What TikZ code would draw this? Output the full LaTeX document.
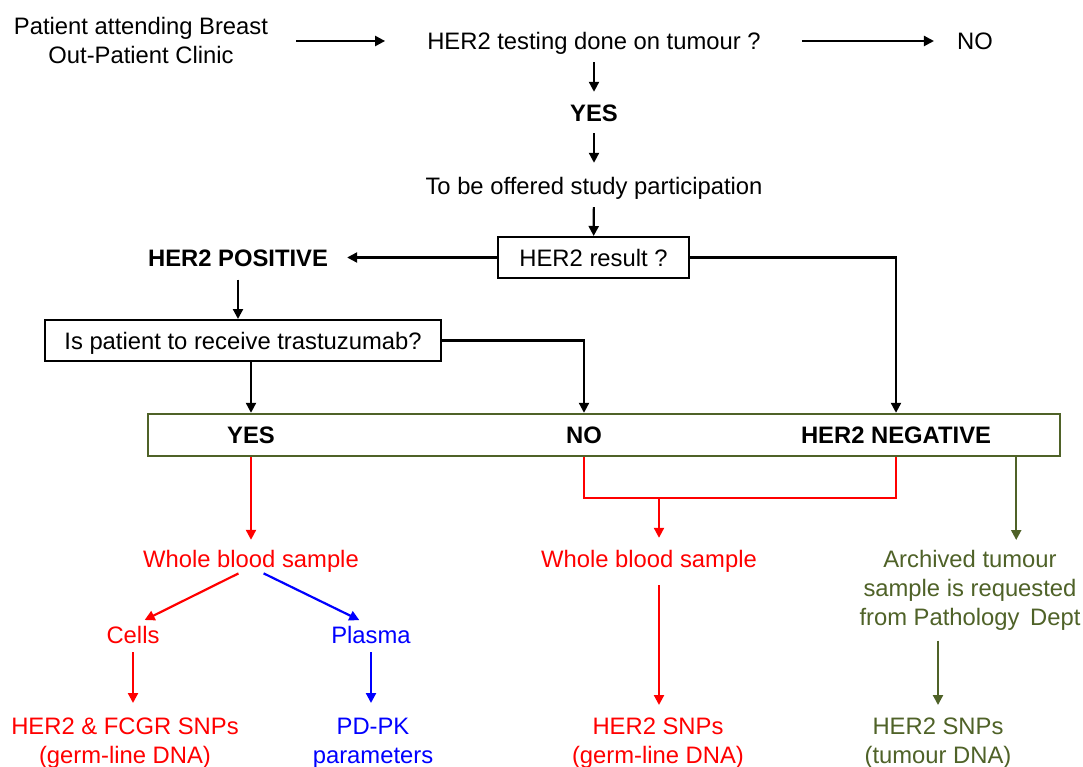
\documentclass[tikz,border=0pt]{standalone}
\usepackage{fontspec}
\setmainfont{Liberation Sans}
\usetikzlibrary{arrows.meta}
\definecolor{oliv}{RGB}{79,98,40}
\definecolor{pred}{RGB}{255,0,0}
\definecolor{pblue}{RGB}{0,0,255}
\begin{document}
\begin{tikzpicture}[x=1pt,y=-1pt,
  txt/.style={font=\fontsize{23.8}{28.5}\selectfont, inner sep=0pt, text height=17pt, text depth=0pt},
  mtxt/.style={font=\fontsize{23.8}{28.5}\selectfont, inner sep=0pt, align=center, anchor=north},
  bold/.style={txt, font=\fontsize{23.8}{28.5}\selectfont\bfseries},
  box/.style={txt, draw=black, line width=2pt, minimum height=41pt},
  tip/.style={-{Triangle[length=10pt,width=10pt]}},
  arr/.style={draw=black, line width=2.2pt, tip},
  rline/.style={draw=pred, line width=2.2pt},
  rarr/.style={rline, tip},
  barr/.style={draw=pblue, line width=2.2pt, tip},
  garr/.style={draw=oliv, line width=2.2pt, tip}]
\useasboundingbox[fill=white] (0,0) rectangle (1083,767);

% top row
\node[mtxt] (pat) at (141,17.5) {Patient attending Breast\\Out-Patient Clinic};
\node[txt] (test) at (594,41) {HER2 testing done on tumour ?};
\node[txt] (no1) at (975,41) {NO};
\node[bold] (yes1) at (594,113) {YES};
\node[txt] (offer) at (594,186) {To be offered study participation};
\node[box, minimum width=191pt] (res) at (593.5,257.5) {HER2 result ?};
\node[bold] (pos) at (238,257.5) {HER2 POSITIVE};
\node[box, minimum width=396pt] (recv) at (243,340.5) {Is patient to receive trastuzumab?};

% green box
\node[draw=oliv, line width=2.4pt, minimum width=912pt, minimum height=42pt, inner sep=0pt] (gbox) at (604,435) {};
\node[bold] (yes2) at (251,435) {YES};
\node[bold] (no2) at (584,435) {NO};
\node[bold] (neg) at (896,435) {HER2 NEGATIVE};

% lower part
\node[txt, text=pred] (wb1) at (251,558.5) {Whole blood sample};
\node[txt, text=pred] (cells) at (133,634.5) {Cells};
\node[txt, text=pblue] (plasma) at (371,634.5) {Plasma};
\node[mtxt, text=pred] (snp1) at (125,718) {HER2 \& FCGR SNPs\\(germ-line DNA)};
\node[mtxt, text=pblue] (pdpk) at (373,718) {PD-PK\\parameters};
\node[txt, text=pred] (wb2) at (649,558.5) {Whole blood sample};
\node[mtxt, text=pred] (snp2) at (658,718) {HER2 SNPs\\(germ-line DNA)};
\node[mtxt, text=oliv, font=\fontsize{23.8}{29}\selectfont] (arch) at (970,550) {Archived tumour\\sample is requested\\from Pathology\hspace{4pt} Dept};
\node[mtxt, text=oliv] (snp3) at (938,718) {HER2 SNPs\\(tumour DNA)};

% connectors top
\draw[arr, shorten <=28pt, shorten >=42pt] (pat.east |- test) -- (test);
\draw[arr, shorten <=41pt, shorten >=23pt] (test) -- (no1);
\draw[arr, shorten <=12.5pt, shorten >=12.5pt] (test) -- (yes1);
\draw[arr, shorten <=11.5pt, shorten >=14.5pt] (yes1) -- (offer);
\draw[arr, shorten <=12.5pt] (offer) -- (res);
\draw[arr, shorten >=19pt] (res) -- (pos);
\draw[arr] (res.east) -| (neg |- gbox.north);
\draw[arr, shorten <=13.5pt] (pos) -- (pos |- recv.north);
\draw[arr] (recv.south -| yes2) -- (yes2 |- gbox.north);
\draw[arr] (recv.east) -| (no2 |- gbox.north);

% red
\draw[rarr, shorten >=10pt] (yes2 |- gbox.south) -- (wb1);
\draw[rline] (no2 |- gbox.south) -- ++(0,41) -| (neg |- gbox.south);
\coordinate (rb) at (659,497);
\draw[rarr, shorten >=12pt] (rb) -- (rb |- wb2.north);
\draw[rarr, shorten <=18pt, shorten >=13pt] (rb |- wb2.south) -- (rb |- snp2.north);
\draw[rarr, shorten <=14pt, shorten >=13pt] (wb1.south) -- (cells.north);
\draw[barr, shorten <=14pt, shorten >=13pt] (wb1.south) -- (plasma.north);
\draw[rarr, shorten <=9pt, shorten >=15pt] (cells) -- (cells |- snp1.north);
\draw[barr, shorten <=9pt, shorten >=15pt] (plasma) -- (plasma |- pdpk.north);

% green
\coordinate (ga) at ([xshift=-45pt]gbox.south east);
\draw[garr, shorten >=10pt] (ga) -- (ga |- arch.north);
\draw[garr, shorten <=10pt, shorten >=13pt] (arch.south -| snp3) -- (snp3.north);
\end{tikzpicture}
\end{document}
